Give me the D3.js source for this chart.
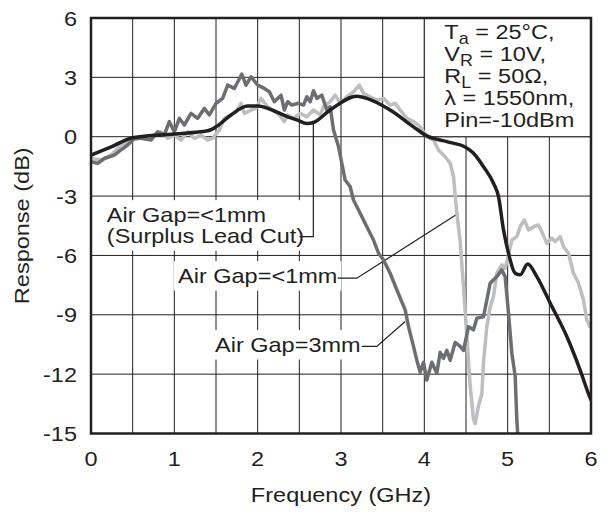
<!DOCTYPE html>
<html>
<head>
<meta charset="utf-8">
<script src="https://cdn.jsdelivr.net/npm/d3@7"></script>
<style>
  body { margin: 0; background: #fff; }
  text { font-family: "Liberation Sans", Arial, Helvetica, sans-serif; fill: #231f20; }
</style>
</head>
<body>
<div id="chart"></div>
<script>
// Air Gap=<1mm (Surplus Lead Cut) - black
const leadCutFreq = [0, 0.25, 0.5, 1.0, 1.4, 1.5, 1.68, 1.88, 2.0, 2.2, 2.36, 2.47, 2.59, 2.67, 2.87, 3.19, 3.31, 3.59, 3.87, 4.03, 4.27, 4.5, 4.59, 4.71, 4.83, 4.89, 4.95, 5.01, 5.09, 5.15, 5.24, 5.35, 5.51, 5.71, 5.87, 5.98, 6.0];
const leadCutDb = [-0.93, -0.5, -0.05, 0.14, 0.3, 0.5, 1.1, 1.55, 1.55, 1.3, 1.0, 0.85, 0.67, 0.72, 1.35, 2.05, 1.94, 1.35, 0.5, 0.04, -0.25, -0.54, -0.84, -1.52, -2.35, -3.03, -4.71, -5.89, -6.9, -6.98, -6.43, -7.07, -8.41, -10.1, -11.8, -13.1, -13.3];

// Air Gap=<1mm - light gray
const gap1Freq = [0, 0.12, 0.24, 0.36, 0.48, 0.6, 0.76, 0.84, 0.92, 1.0, 1.08, 1.16, 1.24, 1.32, 1.4, 1.46, 1.54, 1.6, 1.68, 1.74, 1.8, 1.84, 1.92, 1.98, 2.04, 2.12, 2.18, 2.26, 2.32, 2.36, 2.43, 2.51, 2.59, 2.67, 2.75, 2.79, 2.87, 2.93, 2.99, 3.07, 3.15, 3.22, 3.27, 3.35, 3.43, 3.51, 3.59, 3.65, 3.71, 3.79, 3.87, 3.95, 4.03, 4.11, 4.17, 4.25, 4.31, 4.35, 4.39, 4.43, 4.47, 4.51, 4.55, 4.59, 4.61, 4.65, 4.69, 4.71, 4.75, 4.79, 4.83, 4.87, 4.93, 4.97, 5.01, 5.05, 5.11, 5.15, 5.2, 5.25, 5.31, 5.37, 5.41, 5.47, 5.53, 5.57, 5.63, 5.67, 5.73, 5.79, 5.85, 5.91, 5.95, 5.99];
const gap1Db = [-1.1, -1.18, -0.93, -0.42, -0.17, -0.08, 0.09, 0.25, -0.08, 0.08, -0.17, 0.25, -0.08, 0.08, -0.17, -0.08, 0.34, 0.93, 1.1, 1.26, 1.69, 1.18, 1.35, 1.43, 1.94, 1.52, 1.35, 1.1, 0.76, 1.1, 0.93, 1.18, 1.01, 1.35, 1.1, 1.52, 1.77, 2.1, 1.69, 2.02, 2.27, 2.61, 2.19, 2.02, 1.85, 1.94, 1.6, 1.69, 1.35, 0.93, 0.76, 0.5, 0.0, -0.17, -0.67, -1.01, -1.34, -2.0, -3.87, -5.3, -7.58, -10.1, -12.6, -14.3, -14.5, -13.6, -13.0, -11.4, -9.6, -8.6, -8.08, -6.9, -6.48, -6.65, -5.97, -5.22, -5.05, -4.55, -4.21, -4.71, -4.55, -4.46, -4.8, -5.39, -5.13, -5.3, -5.05, -5.56, -5.89, -6.9, -7.4, -8.25, -9.26, -9.6];

// Air Gap=3mm - dark gray
const gap3Freq = [0, 0.08, 0.16, 0.28, 0.36, 0.44, 0.52, 0.6, 0.72, 0.8, 0.88, 0.94, 1.0, 1.06, 1.12, 1.2, 1.28, 1.36, 1.42, 1.5, 1.58, 1.64, 1.72, 1.81, 1.86, 1.92, 2.0, 2.08, 2.14, 2.2, 2.28, 2.32, 2.36, 2.41, 2.49, 2.55, 2.59, 2.63, 2.67, 2.71, 2.77, 2.83, 2.87, 2.91, 2.97, 3.01, 3.05, 3.11, 3.15, 3.23, 3.31, 3.39, 3.45, 3.51, 3.59, 3.67, 3.77, 3.81, 3.87, 3.91, 3.95, 3.99, 4.03, 4.09, 4.15, 4.19, 4.23, 4.27, 4.31, 4.37, 4.43, 4.47, 4.53, 4.59, 4.63, 4.71, 4.79, 4.87, 4.93, 4.97, 5.01, 5.05, 5.09, 5.11, 5.12];
const gap3Db = [-1.26, -1.35, -1.1, -0.93, -0.67, -0.42, -0.08, -0.08, -0.17, 0.25, 0.09, 0.76, 0.25, 0.93, 0.59, 1.18, 0.93, 1.43, 1.1, 1.69, 1.94, 2.61, 2.44, 3.17, 2.61, 3.03, 2.61, 2.44, 2.27, 1.77, 2.1, 1.35, 1.77, 1.6, 1.69, 1.6, 2.02, 1.77, 2.32, 1.94, 2.1, 1.35, 1.52, 0.34, -0.5, -1.34, -2.19, -2.52, -3.2, -3.87, -4.55, -5.22, -5.89, -6.23, -6.9, -7.74, -8.75, -9.6, -10.6, -11.3, -11.9, -11.4, -12.3, -11.4, -11.95, -10.9, -11.2, -10.8, -11.3, -10.4, -10.6, -10.8, -9.6, -9.76, -9.17, -9.1, -7.4, -7.07, -6.73, -7.07, -8.92, -10.94, -12.1, -14.3, -15];

const xTicks = [0, 1, 2, 3, 4, 5, 6];
const yTicks = [6, 3, 0, -3, -6, -9, -12, -15];
const gridX = d3.range(0.5, 6, 0.5);

const condMain = ["T", "V", "R", "\u03bb = 1550nm,", "Pin=-10dBm"];
const condSub = ["a", "R", "L", "", ""];
const condRest = [" = 25\u00b0C,", " = 10V,", " = 50\u03a9,", "", ""];

const width = 614, height = 516;
const margin = {top: 18, right: 23, bottom: 82.5, left: 91};
const ink = "#231f20";
const stretch = 1.12;

const x = d3.scaleLinear().domain([0, 6]).range([margin.left, width - margin.right]);
const y = d3.scaleLinear().domain([-15, 6]).range([height - margin.bottom, margin.top]);

const svg = d3.select("#chart").append("svg")
  .attr("width", width)
  .attr("height", height);

const label = (g, px, py, str, anchor) => g.append("text")
  .attr("transform", `translate(${px},${py}) scale(${stretch},1)`)
  .attr("text-anchor", anchor || "start")
  .attr("font-size", 21)
  .text(str);

// grid
const grid = svg.append("g").attr("stroke", ink).attr("stroke-width", 1);
grid.selectAll("line.v").data(gridX).join("line")
  .attr("x1", d => x(d)).attr("x2", d => x(d))
  .attr("y1", y(6)).attr("y2", y(-15));
grid.selectAll("line.h").data(yTicks).join("line")
  .attr("y1", d => y(d)).attr("y2", d => y(d))
  .attr("x1", x(0)).attr("x2", x(6));

// conditions box
svg.append("rect")
  .attr("x", x(4)).attr("y", y(6))
  .attr("width", x(6) - x(4)).attr("height", y(0) - y(6))
  .attr("fill", "#fff").attr("stroke", ink).attr("stroke-width", 1);

const cond = svg.append("g");
condMain.forEach((m, i) => {
  const t = cond.append("text")
    .attr("transform", `translate(${x(4) + 20},${y(6) + 21 + i * 22}) scale(${stretch},1)`)
    .attr("font-size", 21);
  t.append("tspan").text(m);
  if (condSub[i]) {
    t.append("tspan").attr("font-size", 16).attr("dy", 5).text(condSub[i]);
    t.append("tspan").attr("dy", -5).text(condRest[i]);
  }
});

// annotations
const annotations = [
  {lines: ["Air Gap=<1mm", "(Surplus Lead Cut)"], at: [0.19, -4.31],
   leader: [[2.668, 0.68], [2.668, -5.05], [2.5, -5.05]]},
  {lines: ["Air Gap=<1mm"], at: [1.044, -7.39],
   leader: [[2.96, -7.15], [3.19, -7.15], [4.41, -3.87]]},
  {lines: ["Air Gap=3mm"], at: [1.488, -10.87],
   leader: [[3.25, -10.6], [3.43, -10.6], [3.77, -9.34]]}
];

annotations.forEach(a => {
  const g = svg.append("g");
  const bg = g.append("rect").attr("fill", "#fff");
  a.lines.forEach((s, i) => label(g, x(a.at[0]), y(a.at[1]) + i * 21, s));
  const b = g.node().getBBox();
  bg.attr("x", b.x - 4).attr("y", b.y - 3)
    .attr("width", b.width + 8).attr("height", b.height + 6);
  svg.append("path")
    .attr("fill", "none").attr("stroke", ink).attr("stroke-width", 1.2)
    .attr("d", d3.line().x(d => x(d[0])).y(d => y(d[1]))(a.leader));
});

// curves
svg.append("clipPath").attr("id", "plot").append("rect")
  .attr("x", x(0)).attr("y", y(6))
  .attr("width", x(6) - x(0)).attr("height", y(-15) - y(6));

const curves = svg.append("g").attr("clip-path", "url(#plot)")
  .attr("fill", "none").attr("stroke-linejoin", "round").attr("stroke-linecap", "round");

const noisy = d3.line().x(d => x(d[0])).y(d => y(d[1]));
const smooth = d3.line().curve(d3.curveMonotoneX).x(d => x(d[0])).y(d => y(d[1]));

curves.append("path")
  .attr("stroke", "#bcbec0").attr("stroke-width", 3.5)
  .attr("d", noisy(d3.zip(gap1Freq, gap1Db)));
curves.append("path")
  .attr("stroke", "#6d6e71").attr("stroke-width", 3.5)
  .attr("d", noisy(d3.zip(gap3Freq, gap3Db)));
curves.append("path")
  .attr("stroke", ink).attr("stroke-width", 3.5)
  .attr("d", smooth(d3.zip(leadCutFreq, leadCutDb)));

// frame
svg.append("rect")
  .attr("x", x(0)).attr("y", y(6))
  .attr("width", x(6) - x(0)).attr("height", y(-15) - y(6))
  .attr("fill", "none").attr("stroke", ink).attr("stroke-width", 2.5);

// tick labels
const axes = svg.append("g");
xTicks.forEach(d => label(axes, x(d), 466, d, "middle"));
yTicks.forEach(d => label(axes, 77, y(d) + 7.5, d, "end"));

// axis titles
label(svg, (x(0) + x(6)) / 2, 502, "Frequency (GHz)", "middle");
svg.append("text")
  .attr("transform", `translate(29,${(y(6) + y(-15)) / 2}) rotate(-90) scale(${stretch},1)`)
  .attr("text-anchor", "middle")
  .attr("font-size", 21)
  .text("Response (dB)");
</script>
</body>
</html>
